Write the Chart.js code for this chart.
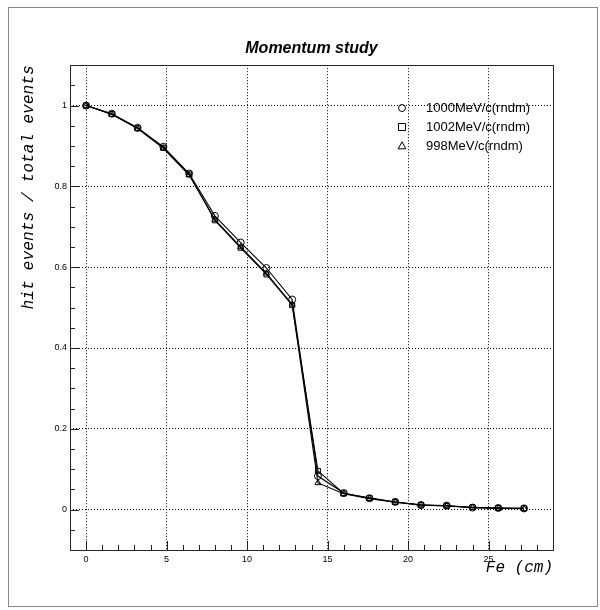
<!DOCTYPE html>
<html>
<head>
<meta charset="utf-8">
<title>Momentum study</title>
<script src="https://cdn.jsdelivr.net/npm/chart.js@4.4.1/dist/chart.umd.min.js"></script>
<style>
  html, body { margin: 0; padding: 0; background: #fff; }
  canvas { display: block; }
</style>
</head>
<body>
<canvas id="momentumChart" width="600" height="610"></canvas>
<script>
// data
const feDepth = [0, 1.6, 3.2, 4.8, 6.4, 8.0, 9.6, 11.2, 12.8, 14.4, 16.0, 17.6, 19.2, 20.8, 22.4, 24.0, 25.6, 27.2];
const ratio1000 = [1.0, 0.980, 0.945, 0.898, 0.832, 0.727, 0.661, 0.598, 0.520, 0.083, 0.041, 0.028, 0.019, 0.011, 0.010, 0.005, 0.004, 0.003];
const ratio1002 = [1.0, 0.979, 0.944, 0.896, 0.830, 0.716, 0.648, 0.582, 0.506, 0.096, 0.040, 0.029, 0.019, 0.012, 0.009, 0.006, 0.004, 0.003];
const ratio998 = [1.0, 0.978, 0.943, 0.894, 0.828, 0.718, 0.650, 0.585, 0.508, 0.066, 0.039, 0.027, 0.018, 0.011, 0.009, 0.005, 0.003, 0.002];
const seriesLabels = ['1000MeV/c(rndm)', '1002MeV/c(rndm)', '998MeV/c(rndm)'];
const xTickValues = [0, 5, 10, 15, 20, 25];
const yTickValues = [0, 0.2, 0.4, 0.6, 0.8, 1];

const toPoints = (ys) => feDepth.map((x, i) => ({ x: x, y: ys[i] }));

const makeDataset = (label, ys, style) => ({
  label: label,
  data: toPoints(ys),
  borderColor: '#000',
  borderWidth: 1.1,
  backgroundColor: 'rgba(0,0,0,0)',
  pointStyle: style,
  pointRadius: 3.5,
  pointBorderColor: '#000',
  pointBackgroundColor: 'rgba(0,0,0,0)',
  pointBorderWidth: 1,
  tension: 0,
  fill: false,
});

// frame, inward ticks, outer border and legend (ROOT style)
const rootFramePlugin = {
  id: 'rootFrame',
  afterDraw(chart) {
    const ctx = chart.ctx;
    const area = chart.chartArea;
    const xs = chart.scales.x;
    const ys = chart.scales.y;
    ctx.save();

    // outer pad border
    ctx.strokeStyle = '#888';
    ctx.lineWidth = 1;
    ctx.strokeRect(8.5, 7.5, 589, 599);

    // frame
    ctx.strokeStyle = '#222';
    ctx.lineWidth = 1;
    ctx.strokeRect(Math.round(area.left) + 0.5, Math.round(area.top) + 0.5,
      Math.round(area.right - area.left), Math.round(area.bottom - area.top));

    // x ticks every 1 cm, long at every 5
    ctx.beginPath();
    for (let v = Math.ceil(xs.min); v <= xs.max; v++) {
      const px = Math.round(xs.getPixelForValue(v)) + 0.5;
      const len = v % 5 === 0 ? 9 : 5;
      ctx.moveTo(px, area.bottom);
      ctx.lineTo(px, area.bottom - len);
    }
    // y ticks every 0.05, long at every 0.2
    for (let k = Math.ceil(ys.min / 0.05); k * 0.05 <= ys.max + 1e-9; k++) {
      const py = Math.round(ys.getPixelForValue(k * 0.05)) + 0.5;
      const len = k % 4 === 0 ? 9 : 5;
      ctx.moveTo(area.left, py);
      ctx.lineTo(area.left + len, py);
    }
    ctx.stroke();

    // legend
    const lx = 402, ly0 = 108, step = 19;
    ctx.font = '13px "Liberation Sans", Arial, sans-serif';
    ctx.textBaseline = 'middle';
    ctx.textAlign = 'left';
    chart.data.datasets.forEach((ds, i) => {
      const y = ly0 + i * step;
      const r = 3.5;
      ctx.strokeStyle = '#000';
      ctx.lineWidth = 1;
      ctx.beginPath();
      if (ds.pointStyle === 'circle') {
        ctx.arc(lx, y, r, 0, Math.PI * 2);
      } else if (ds.pointStyle === 'rect') {
        ctx.rect(lx - r, y - r, r * 2, r * 2);
      } else {
        ctx.moveTo(lx, y - r * 1.2);
        ctx.lineTo(lx + r * 1.1, y + r * 0.8);
        ctx.lineTo(lx - r * 1.1, y + r * 0.8);
        ctx.closePath();
      }
      ctx.stroke();
      ctx.fillStyle = '#000';
      ctx.fillText(ds.label, 426, y);
    });
    ctx.restore();
  },
};

new Chart(document.getElementById('momentumChart'), {
  type: 'line',
  data: {
    datasets: [
      makeDataset(seriesLabels[0], ratio1000, 'circle'),
      makeDataset(seriesLabels[1], ratio1002, 'rect'),
      makeDataset(seriesLabels[2], ratio998, 'triangle'),
    ],
  },
  options: {
    responsive: false,
    animation: false,
    devicePixelRatio: 1,
    layout: {
      padding: { left: 0, right: 47, top: 10, bottom: 30 },
    },
    plugins: {
      legend: { display: false },
      tooltip: { enabled: false },
      title: {
        display: true,
        fullSize: false,
        text: 'Momentum study',
        color: '#000',
        font: { family: '"Liberation Sans", Arial, sans-serif', size: 16, weight: 'bold', style: 'italic' },
        padding: { top: 29, bottom: 7 },
      },
    },
    scales: {
      x: {
        type: 'linear',
        min: -1,
        max: 29,
        afterBuildTicks: (scale) => { scale.ticks = xTickValues.map((v) => ({ value: v })); },
        afterFit: (scale) => { scale.height = 30; },
        grid: { color: '#000', lineWidth: 1, drawTicks: false },
        border: { display: false, dash: [1, 2] },
        ticks: {
          color: '#000',
          padding: 4,
          maxRotation: 0,
          font: { family: '"Liberation Sans", Arial, sans-serif', size: 9 },
        },
        title: {
          display: true,
          text: 'Fe (cm)',
          align: 'end',
          color: '#000',
          font: { family: '"Liberation Mono", "Courier New", monospace', size: 16, style: 'italic' },
          padding: { top: 0, bottom: 3 },
        },
      },
      y: {
        type: 'linear',
        min: -0.1,
        max: 1.1,
        afterBuildTicks: (scale) => { scale.ticks = yTickValues.map((v) => ({ value: v })); },
        afterFit: (scale) => { scale.width = 70; },
        grid: { color: '#000', lineWidth: 1, drawTicks: false },
        border: { display: false, dash: [1, 2] },
        ticks: {
          color: '#000',
          padding: 3,
          font: { family: '"Liberation Sans", Arial, sans-serif', size: 9 },
          callback: (v) => String(Math.round(v * 10) / 10),
        },
        title: {
          display: true,
          text: 'hit events / total events',
          align: 'end',
          color: '#000',
          font: { family: '"Liberation Mono", "Courier New", monospace', size: 16.3, style: 'italic' },
          padding: { top: 19, bottom: 0 },
        },
      },
    },
  },
  plugins: [rootFramePlugin],
});
</script>
</body>
</html>
